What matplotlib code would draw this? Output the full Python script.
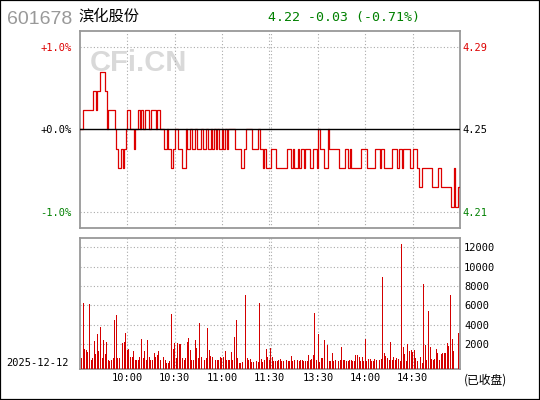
import matplotlib
matplotlib.use("Agg")
import matplotlib.pyplot as plt
from matplotlib.patches import Rectangle
import numpy as np

# ---------------- data ----------------
code = "601678"
name = "滨化股份"
trade_date = "2025-12-12"
status_label = "(已收盘)"
prev_close = 4.25
last_price = 4.22
time_labels = ["10:00", "10:30", "11:00", "11:30", "13:30", "14:00", "14:30"]
pct_ticks = [1.0, 0.0, -1.0]
vol_ticks = [2000, 4000, 6000, 8000, 10000, 12000]

price = [
    4.25, 4.25, 4.26, 4.26, 4.26, 4.26, 4.26, 4.26, 4.27, 4.27,
    4.26, 4.27, 4.27, 4.28, 4.28, 4.28, 4.27, 4.25, 4.26, 4.26,
    4.26, 4.26, 4.25, 4.24, 4.23, 4.23, 4.24, 4.23, 4.24, 4.25,
    4.26, 4.26, 4.25, 4.25, 4.24, 4.25, 4.25, 4.26, 4.25, 4.26,
    4.25, 4.26, 4.26, 4.26, 4.25, 4.26, 4.26, 4.26, 4.25, 4.26,
    4.26, 4.25, 4.25, 4.24, 4.24, 4.25, 4.24, 4.24, 4.23, 4.24,
    4.25, 4.25, 4.24, 4.24, 4.24, 4.23, 4.23, 4.25, 4.24, 4.24,
    4.25, 4.24, 4.24, 4.25, 4.24, 4.24, 4.24, 4.25, 4.24, 4.24,
    4.25, 4.24, 4.24, 4.25, 4.24, 4.25, 4.24, 4.25, 4.24, 4.24,
    4.25, 4.24, 4.25, 4.24, 4.25, 4.25, 4.25, 4.25, 4.24, 4.24,
    4.24, 4.24, 4.23, 4.23, 4.24, 4.25, 4.25, 4.25, 4.25, 4.24,
    4.24, 4.24, 4.24, 4.25, 4.24, 4.24, 4.23, 4.24, 4.23, 4.23,
    4.23, 4.24, 4.24, 4.24, 4.23, 4.23, 4.23, 4.23, 4.23, 4.23,
    4.23, 4.24, 4.24, 4.24, 4.23, 4.24, 4.23, 4.23, 4.24, 4.23,
    4.24, 4.24, 4.23, 4.24, 4.24, 4.24, 4.23, 4.23, 4.24, 4.24,
    4.23, 4.25, 4.24, 4.24, 4.24, 4.23, 4.23, 4.25, 4.24, 4.24,
    4.24, 4.24, 4.24, 4.24, 4.23, 4.23, 4.23, 4.23, 4.24, 4.24,
    4.23, 4.24, 4.23, 4.23, 4.23, 4.23, 4.23, 4.23, 4.24, 4.24,
    4.24, 4.24, 4.23, 4.23, 4.23, 4.23, 4.23, 4.24, 4.24, 4.24,
    4.23, 4.24, 4.24, 4.23, 4.23, 4.23, 4.23, 4.23, 4.24, 4.24,
    4.24, 4.23, 4.24, 4.24, 4.23, 4.24, 4.24, 4.24, 4.24, 4.23,
    4.23, 4.24, 4.24, 4.24, 4.23, 4.22, 4.22, 4.23, 4.23, 4.23,
    4.23, 4.23, 4.23, 4.22, 4.22, 4.22, 4.22, 4.23, 4.23, 4.22,
    4.22, 4.22, 4.22, 4.22, 4.22, 4.21, 4.21, 4.23, 4.21, 4.21,
    4.22, 4.22,
]

volume = [
    0,
    550, 6240, 1500, 1400, 1170, 6170, 380, 550, 2340, 1030,
    3100, 1340, 3800, 620, 2450, 970, 2280, 410, 310, 380,
    620, 4500, 5000, 550, 620, 1030, 2170, 2280, 3200, 1400,
    1500, 690, 690, 1340, 380, 380, 380, 690, 2550, 550,
    1340, 380, 2450, 690, 380, 380, 1100, 690,
    900, 1300, 400, 380, 690, 380, 100, 100, 310, 5140,
    1480, 2100, 550, 2100, 2030, 2030, 620, 380, 550, 2240,
    2650, 1410, 410, 350, 2450, 1650, 550, 4200, 650, 550,
    380, 550, 3650, 1380, 830, 690, 1300, 410, 350, 380,
    720, 620, 690, 1300, 380, 350, 380,
    1240, 350, 2700, 4500, 550, 100, 100, 200, 350, 7100,
    550, 380, 480, 200, 200, 200, 250, 170, 6280, 480,
    170, 410, 1480, 690, 380, 1590, 690, 280, 240, 280,
    380, 480, 280, 280, 380, 380, 280, 280, 790, 280,
    380, 690, 350, 280, 380, 380, 280, 280, 280,
    860, 380, 480, 860, 5240, 380, 3030, 200, 550, 550,
    2400, 280, 1930, 280, 280, 1100, 280, 380, 380, 280,
    410, 1720, 350, 380, 280, 280, 410, 350, 280, 280,
    860, 860, 690, 280, 690, 280, 2550, 280, 480, 480,
    280, 280, 480, 380, 380, 380, 480, 8970,
    1100, 790, 550, 380, 2240, 380, 650, 380, 550, 480,
    280, 12380, 1690, 1000, 280, 2000, 1310, 1410, 1240, 1410,
    550, 280, 8830, 690, 100, 8240, 1930, 380, 5450, 1700,
    480, 380, 480, 1480, 1070, 410, 970, 1100, 1100, 1140,
    2140, 1830, 7100, 2550, 1300, 0, 0, 3140, 0,
]

# ---------------- helpers ----------------
def minute_index(t):
    h, m = map(int, t.split(":"))
    mins = h * 60 + m
    if mins <= 11 * 60 + 30:
        return mins - (9 * 60 + 30)
    return 121 + mins - 13 * 60

RED = "#dd0000"
GREEN = "#008000"
GRID = "#aaaaaa"
FRAME = "#999999"
MONO = "DejaVu Sans Mono"
CJK = ["Noto Sans CJK SC", "DejaVu Sans"]

x = np.arange(len(price))
pct = (np.array(price) - prev_close) / prev_close * 100.0
vol = np.array(volume, dtype=float)

tick_pos = [minute_index(t) for t in time_labels]
grid_pos = sorted(set(tick_pos + [minute_index("13:00")]))

W, H = 540, 400
fig = plt.figure(figsize=(W / 100, H / 100), dpi=100)
fig.patch.set_facecolor("white")

ax1 = fig.add_axes([80 / W, 1 - 228 / H, 380 / W, 197 / H])
ax2 = fig.add_axes([80 / W, 1 - 369 / H, 380 / W, 131 / H])

xmax = len(price) - 1
for ax in (ax1, ax2):
    ax.set_xlim(0, xmax)
    for s in ax.spines.values():
        s.set_color(FRAME)
        s.set_linewidth(1.3)
    for p in grid_pos:
        ax.axvline(p, color=GRID, lw=0.8, ls=(0, (1, 2)), zorder=1)

# ----- price panel -----
ax1.set_ylim(-1.2, 1.2)
for v in pct_ticks:
    if v != 0:
        ax1.axhline(v, color=GRID, lw=0.8, ls=(0, (1, 2)), zorder=1)
ax1.axhline(0, color="black", lw=1.0, zorder=4)
ax1.step(x, pct, where="post", color=RED, lw=0.9, zorder=3)
ax1.text(0.026, 0.836, "CFi.CN", transform=ax1.transAxes, ha="left", va="center",
         fontsize=21, fontweight="bold", family="Liberation Sans", color="#d9d9d9", zorder=0)

ax1.set_xticks([])
ax1.set_yticks(pct_ticks)
ax1.set_yticklabels([f"{v:+.1f}%" for v in pct_ticks], family=MONO, fontsize=7.5)
ax1.tick_params(axis="y", length=0, pad=6)
for lab, v in zip(ax1.get_yticklabels(), pct_ticks):
    lab.set_color(RED if v > 0 else (GREEN if v < 0 else "black"))

ax1r = ax1.twinx()
ax1r.set_ylim(ax1.get_ylim())
ax1r.set_yticks(pct_ticks)
ax1r.set_yticklabels([f"{prev_close * (1 + v / 100):.2f}" for v in pct_ticks], family=MONO, fontsize=7.5)
ax1r.tick_params(axis="y", length=0, pad=1.5)
for lab, v in zip(ax1r.get_yticklabels(), pct_ticks):
    lab.set_color(RED if v > 0 else (GREEN if v < 0 else "black"))
for s in ax1r.spines.values():
    s.set_visible(False)

# ----- volume panel -----
vmin, vmax = -550, 12960
ax2.set_ylim(vmin, vmax)
for v in vol_ticks:
    ax2.axhline(v, color=GRID, lw=0.8, ls=(0, (1, 2)), zorder=1)
mask = vol > 0
ax2.bar(x[mask], vol[mask] - vmin, bottom=vmin, width=0.6, color="#d40000",
        linewidth=0, zorder=3)
ax2.yaxis.tick_right()
ax2.set_yticks(vol_ticks)
ax2.set_yticklabels([str(v) for v in vol_ticks], family=MONO, fontsize=7.5)
ax2.tick_params(axis="y", length=0, pad=3)
ax2.set_xticks(tick_pos)
ax2.set_xticklabels(time_labels, family=MONO, fontsize=7.5)
ax2.tick_params(axis="x", length=0, pad=3)

# ----- header & misc text -----
change = last_price - prev_close
change_pct = change / prev_close * 100
fig.text(7.5 / W, 1 - 24 / H, code, color="#999999", fontsize=14, family="Liberation Sans",
         ha="left", va="baseline")
fig.text(78 / W, 1 - 20.5 / H, name, color="black", fontsize=11, family=CJK,
         ha="left", va="baseline")
fig.text(268 / W, 1 - 20.5 / H, f"{last_price:.2f} {change:+.2f} ({change_pct:+.2f}%)",
         color=GREEN, fontsize=9.5, family=MONO, ha="left", va="baseline")
fig.text(6.5 / W, 1 - 363.5 / H, trade_date, color="black", fontsize=7.5, family=MONO,
         ha="left", va="center")
fig.text(464 / W, 1 - 380 / H, status_label, color="black", fontsize=8.5, family=CJK,
         ha="left", va="center")

fig.patches.append(Rectangle((0, 0), 1, 1, transform=fig.transFigure, fill=False,
                             edgecolor="black", lw=1.6))

fig.savefig("out.png", dpi=100)
